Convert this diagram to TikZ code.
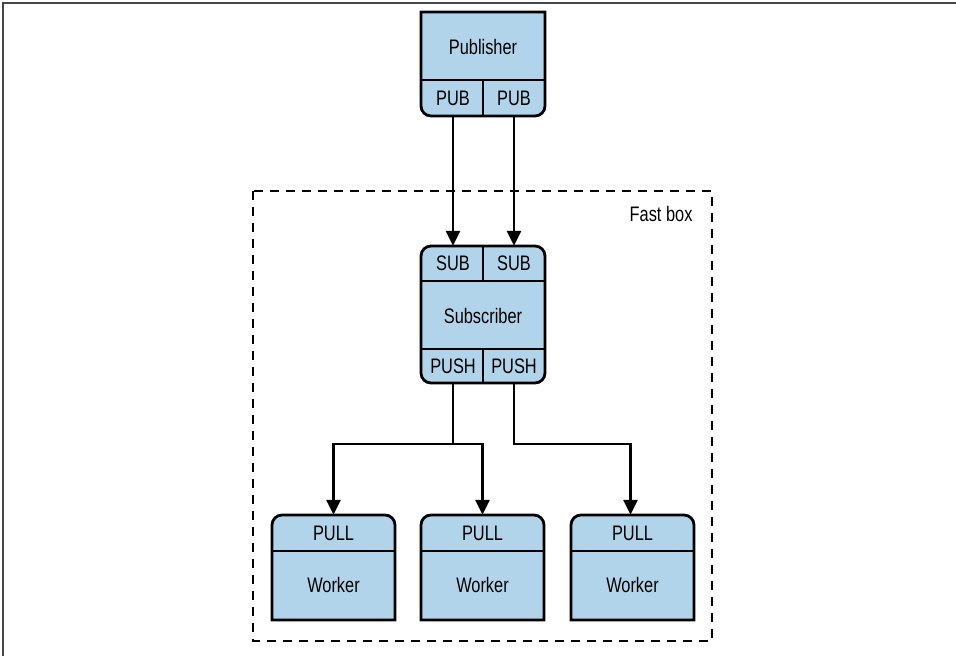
\documentclass[tikz,border=0pt]{standalone}
\usepackage{fontspec}
\setmainfont{Liberation Sans}[FakeStretch=0.78]
\usepackage{tikz}
\usetikzlibrary{arrows.meta,positioning}
\usepackage{xcolor}
\definecolor{cellblue}{RGB}{178,212,234}
\definecolor{framegray}{RGB}{70,70,70}

\begin{document}
\begin{tikzpicture}[x=1pt,y=-1pt,>={Triangle[width=14pt,length=15pt]},every node/.style={font=\fontsize{21}{23}\selectfont},box/.style={draw,fill=cellblue,line width=2.8pt},cell/.style={minimum width=62pt,minimum height=35pt,inner sep=0pt},link/.style={->,line width=2.8pt}]
\useasboundingbox (0,0) rectangle (956,656);
\draw[framegray,line width=2pt] (3,656) -- (3,3) -- (956,3);
\draw[line width=2.8pt,dash pattern=on 9pt off 7pt] (253,191) rectangle (712,641);
\node[anchor=east] (fast) at (696,214) {Fast box};
% publisher
\draw[box] (421,60) [sharp corners] -- (421,12) -- (545,12) -- (545,60) [rounded corners=10pt] -- (545,116) -- (421,116) -- cycle;
\draw[line width=2.8pt] (421,80) -- (545,80) (483,80) -- (483,116);
\node (pub) at (483,47) {Publisher};
\node[cell] (pubA) at (453,98) {PUB};
\node[cell] (pubB) at (514,98) {PUB};
% subscriber
\draw[box,rounded corners=10pt] (421,246) rectangle (545,383);
\draw[line width=2.8pt] (421,281) -- (545,281) (421,349) -- (545,349) (483,246) -- (483,281) (483,349) -- (483,383);
\node[cell] (subA) at (453,263.5) {SUB};
\node[cell] (subB) at (514,263.5) {SUB};
\node (sub) at (483,316) {Subscriber};
\node[cell,minimum height=34pt] (pushA) at (453,366) {PUSH};
\node[cell,minimum height=34pt] (pushB) at (514,366) {PUSH};
% workers
\foreach \n/\x in {A/272,B/421,C/571}{
  \draw[box] (\x,560) [rounded corners=10pt] -- (\x,515) -- ({\x+123},515) -- ({\x+123},560) [sharp corners] -- ({\x+123},620) -- (\x,620) -- cycle;
  \draw[line width=2.8pt] (\x,551) -- ({\x+123},551);
  \node[cell,minimum width=123pt,minimum height=36pt] (pull\n) at ({\x+61.5},533) {PULL};
  \node (work\n) at ({\x+61.5},585) {Worker};
}
\coordinate (forkA) at (453,444);
\coordinate (forkB) at (514,444);
\draw[link] (pubA) -- (subA);
\draw[link] (pubB) -- (subB);
\draw[line width=2.8pt] (pushA) -- (forkA);
\draw[link] (forkA) -| (pullA);
\draw[link] (forkA) -| (pullB);
\draw[link] (pushB) -- (forkB) -| ([xshift=-2pt]pullC.north);
\end{tikzpicture}
\end{document}
